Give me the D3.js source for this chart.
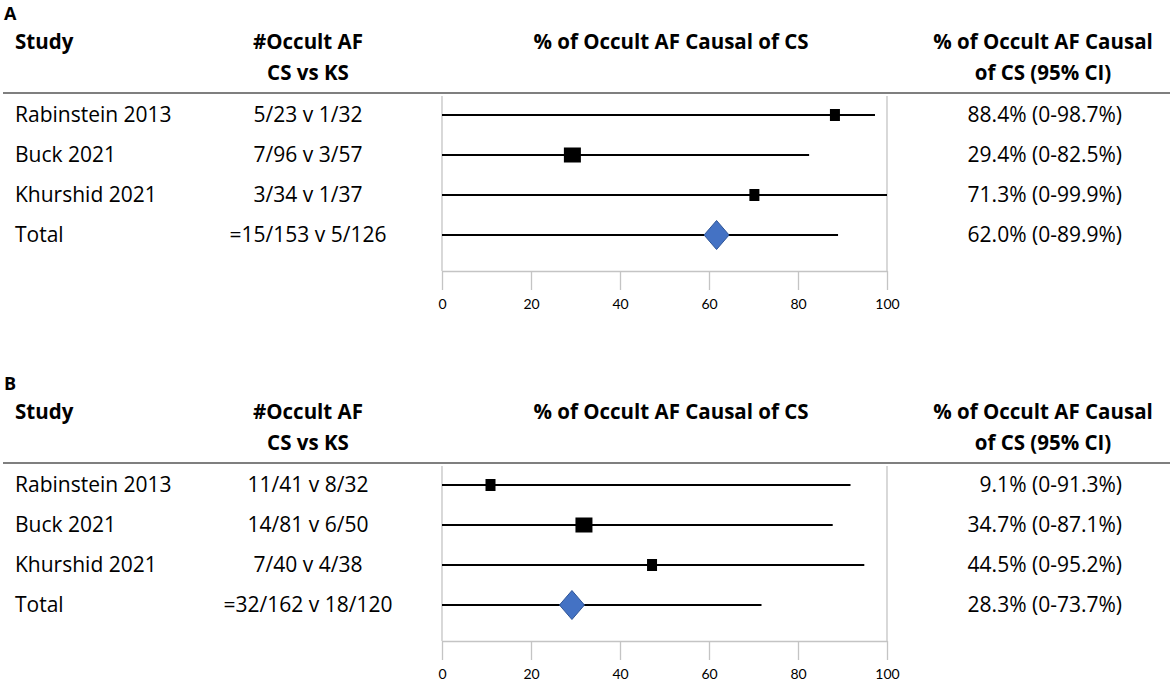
<!DOCTYPE html>
<html>
<head>
<meta charset="utf-8">
<script src="https://cdn.jsdelivr.net/npm/d3@7"></script>
<style>
  body { margin: 0; background: #fff; }
  text { font-family: "Open Sans", Lato, sans-serif; fill: #000; }
  .hdr { font-weight: bold; }
</style>
</head>
<body>
<div id="chart"></div>
<script>
////////// Data ///////////

var studies = ["Rabinstein 2013", "Buck 2021", "Khurshid 2021", "Total"];

// panel A
var countsA = ["5/23 v 1/32", "7/96 v 3/57", "3/34 v 1/37", "=15/153 v 5/126"];
var pointA = [88.3, 29.3, 70.2, 61.7];     // marker position as drawn
var upperA = [97.3, 82.5, 100, 89.0];      // end of whisker as drawn
var ciTextA = ["88.4% (0-98.7%)", "29.4% (0-82.5%)", "71.3% (0-99.9%)", "62.0% (0-89.9%)"];
var weightA = [1, 2, 1, 0];                // 0 = pooled total (diamond)

// panel B
var countsB = ["11/41 v 8/32", "14/81 v 6/50", "7/40 v 4/38", "=32/162 v 18/120"];
var pointB = [10.9, 31.9, 47.2, 29.2];
var upperB = [91.8, 87.8, 94.9, 71.8];
var ciTextB = ["9.1% (0-91.3%)", "34.7% (0-87.1%)", "44.5% (0-95.2%)", "28.3% (0-73.7%)"];
var weightB = [1, 2, 1, 0];

var ticks = [0, 20, 40, 60, 80, 100];

////////// Layout ///////////

var width = 1170, height = 688;

var svg = d3.select("#chart").append("svg")
  .attr("width", width)
  .attr("height", height);

var x = d3.scaleLinear().domain([0, 100]).range([442, 887]);
var y = d3.scalePoint().domain(studies).range([115, 235]);

// square size from study weight
var sqW = d3.scaleLinear().domain([1, 2]).range([10, 17]);
var sqH = d3.scaleLinear().domain([1, 2]).range([12, 15]);

function draw_panel(top, letter, counts, points, uppers, ciTexts, weights) {
  var g = svg.append("g").attr("transform", "translate(0," + top + ")");

  g.append("text").attr("class", "hdr")
    .attr("x", 4).attr("y", 14).attr("dy", "0.35em")
    .style("font-size", "18px")
    .text(letter);

  // column headers
  var hdr = [
    { t: "Study", x: 15, y: 42, a: "start" },
    { t: "#Occult AF", x: 308, y: 42, a: "middle" },
    { t: "CS vs KS", x: 308, y: 73, a: "middle" },
    { t: "% of Occult AF Causal of CS", x: 671, y: 42, a: "middle" },
    { t: "% of Occult AF Causal", x: 1043, y: 42, a: "middle" },
    { t: "of CS (95% CI)", x: 1043, y: 73, a: "middle" }
  ];
  g.selectAll(".hdr-t").data(hdr).enter().append("text")
    .attr("class", "hdr hdr-t")
    .attr("x", function(d) { return d.x; })
    .attr("y", function(d) { return d.y; })
    .attr("dy", "0.35em")
    .attr("text-anchor", function(d) { return d.a; })
    .style("font-size", "20.5px")
    .text(function(d) { return d.t; });

  g.append("line")
    .attr("x1", 3).attr("x2", width)
    .attr("y1", 93).attr("y2", 93)
    .style("stroke", "#7f7f7f")
    .style("stroke-width", 2);

  // left / right frame lines of the plot
  g.selectAll(".frame").data([0, 100]).enter().append("line")
    .attr("class", "frame")
    .attr("x1", x).attr("x2", x)
    .attr("y1", 96).attr("y2", 271)
    .style("stroke", "#c4c4c4")
    .style("stroke-width", 1.3);

  // axis
  var axis = g.append("g")
    .attr("transform", "translate(0,271)")
    .call(d3.axisBottom(x).tickValues(ticks).tickSize(19).tickPadding(9).tickSizeOuter(0));
  axis.selectAll("path, line").style("stroke", "#c4c4c4").style("stroke-width", 1.3);
  axis.selectAll("text")
    .style("font-family", "Lato, sans-serif")
    .style("font-size", "14px")
    .style("fill", "#000");

  var rows = studies.map(function(s, i) {
    return { study: s, count: counts[i], p: points[i], u: uppers[i], ci: ciTexts[i], w: weights[i] };
  });

  // text columns
  g.selectAll(".study").data(rows).enter().append("text")
    .attr("x", 15)
    .attr("y", function(d) { return y(d.study); })
    .attr("dy", "0.35em")
    .style("font-size", "21px")
    .text(function(d) { return d.study; });

  g.selectAll(".count").data(rows).enter().append("text")
    .attr("x", 308)
    .attr("y", function(d) { return y(d.study); })
    .attr("dy", "0.35em")
    .attr("text-anchor", "middle")
    .style("font-size", "21px")
    .text(function(d) { return d.count; });

  g.selectAll(".ci").data(rows).enter().append("text")
    .attr("x", 1122)
    .attr("y", function(d) { return y(d.study); })
    .attr("dy", "0.35em")
    .attr("text-anchor", "end")
    .style("font-size", "21px")
    .text(function(d) { return d.ci; });

  // whiskers
  g.selectAll(".whisker").data(rows).enter().append("line")
    .attr("x1", x(0))
    .attr("x2", function(d) { return x(d.u); })
    .attr("y1", function(d) { return y(d.study); })
    .attr("y2", function(d) { return y(d.study); })
    .style("stroke", "#000")
    .style("stroke-width", 2);

  // study squares
  g.selectAll(".sq").data(rows.filter(function(d) { return d.w > 0; })).enter().append("rect")
    .attr("x", function(d) { return x(d.p) - sqW(d.w) / 2; })
    .attr("y", function(d) { return y(d.study) - sqH(d.w) / 2; })
    .attr("width", function(d) { return sqW(d.w); })
    .attr("height", function(d) { return sqH(d.w); })
    .style("fill", "#000");

  // pooled diamond
  g.selectAll(".dia").data(rows.filter(function(d) { return d.w == 0; })).enter().append("path")
    .attr("d", function(d) {
      var cx = x(d.p), cy = y(d.study);
      return "M" + (cx - 12.5) + "," + cy + "L" + cx + "," + (cy - 14.5)
        + "L" + (cx + 12.5) + "," + cy + "L" + cx + "," + (cy + 14.5) + "Z";
    })
    .style("fill", "#4472c4")
    .style("stroke", "#2f5597")
    .style("stroke-width", 1);
}

draw_panel(0, "A", countsA, pointA, upperA, ciTextA, weightA);
draw_panel(370, "B", countsB, pointB, upperB, ciTextB, weightB);
</script>
</body>
</html>
